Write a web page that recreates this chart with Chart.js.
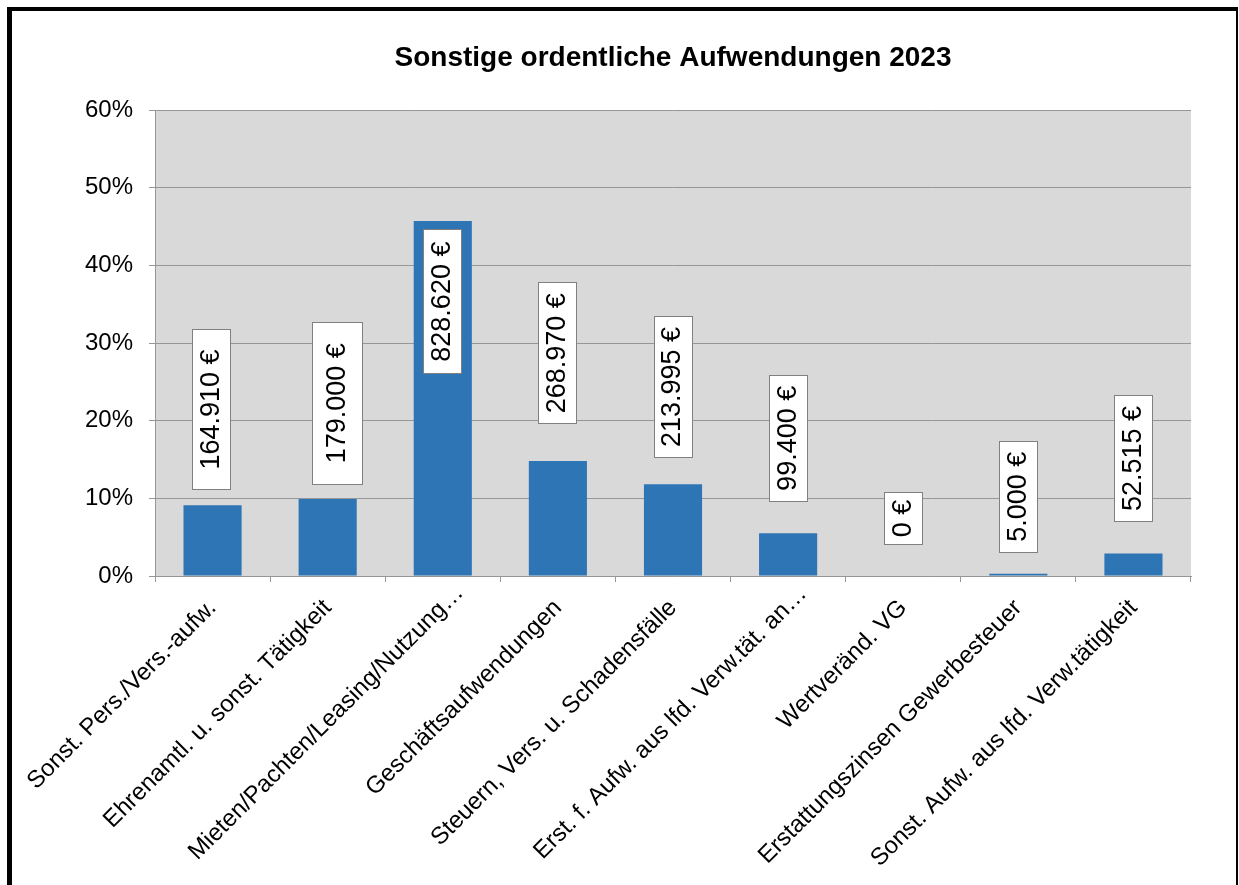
<!DOCTYPE html>
<html>
<head>
<meta charset="utf-8">
<script src="https://cdn.jsdelivr.net/npm/chart.js@4.4.1/dist/chart.umd.min.js"></script>
<style>
  html, body { margin: 0; padding: 0; background: #fff; }
  canvas { display: block; }
</style>
</head>
<body>
<canvas id="c" width="1239" height="885"></canvas>
<script>
// ---- data ----
const chartTitle = 'Sonstige ordentliche Aufwendungen 2023';
const categories = [
  'Sonst. Pers./Vers.-aufw.',
  'Ehrenamtl. u. sonst. Tätigkeit',
  'Mieten/Pachten/Leasing/Nutzung…',
  'Geschäftsaufwendungen',
  'Steuern, Vers. u. Schadensfälle',
  'Erst. f. Aufw. aus lfd. Verw.tät. an…',
  'Wertveränd. VG',
  'Erstattungszinsen Gewerbesteuer',
  'Sonst. Aufw. aus lfd. Verw.tätigkeit'
];
const sharePercent = [9.1, 9.9, 45.7, 14.8, 11.8, 5.5, 0, 0.3, 2.9];
const amountsEuro = [164910, 179000, 828620, 268970, 213995, 99400, 0, 5000, 52515];
const yTicks = [0, 10, 20, 30, 40, 50, 60];

// ---- helpers ----
function fmtEuro(n) {
  return String(n).replace(/\B(?=(\d{3})+(?!\d))/g, '.') + ' €';
}
const FONT = '"Liberation Sans", Arial, Helvetica, sans-serif';

const frameAndBg = {
  id: 'frameAndBg',
  beforeDraw(chart) {
    const { ctx, chartArea: a } = chart;
    ctx.save();
    ctx.fillStyle = '#ffffff';
    ctx.fillRect(0, 0, chart.width, chart.height);
    ctx.fillStyle = '#D9D9D9';
    ctx.fillRect(a.left, a.top, a.right - a.left, a.bottom - a.top);
    ctx.restore();
  },
  afterDraw(chart) {
    const ctx = chart.ctx;
    ctx.save();
    ctx.fillStyle = '#000';
    ctx.fillRect(7, 7, 5, chart.height - 7);
    ctx.fillRect(7, 7, 1231, 4);
    ctx.fillRect(1236, 7, 2, chart.height - 7);
    ctx.restore();
  }
};

// nudges the two truncated category labels along their slant, as in the original
const tickShift = {
  id: 'tickShift',
  beforeDraw(chart, args, opts) {
    const items = chart.scales.x.getLabelItems();
    items.forEach((it, i) => {
      const d = opts.shift[i];
      if (d && !it._shifted) {
        const t = it.options.translation;
        it.options.translation = [t[0] + d[0], t[1] + d[1]];
        it._shifted = true;
      }
    });
  }
};

const valueLabels = {
  id: 'valueLabels',
  afterDatasetsDraw(chart, args, opts) {
    const ctx = chart.ctx;
    const meta = chart.getDatasetMeta(0);
    const area = chart.chartArea;
    ctx.save();
    ctx.font = opts.font;
    meta.data.forEach((bar, i) => {
      const text = fmtEuro(amountsEuro[i]);
      const n = (opts.nudge && opts.nudge[i]) || {};
      const tw = ctx.measureText(text).width;
      const h = tw + 2 * opts.padLong + (n.grow || 0);
      const w = opts.boxWidth + (n.widen || 0);
      let cy = bar.y - opts.gap - h / 2;
      if (cy - h / 2 < area.top) cy = bar.y + opts.insetGap + h / 2;
      cy += (n.dy || 0);
      const cx = bar.x + (n.dx || 0);
      const x0 = Math.round(cx - w / 2), y0 = Math.round(cy - h / 2);
      ctx.fillStyle = '#ffffff';
      ctx.fillRect(x0, y0, Math.round(w), Math.round(h));
      ctx.strokeStyle = opts.border;
      ctx.lineWidth = 1;
      ctx.strokeRect(x0 + 0.5, y0 + 0.5, Math.round(w) - 1, Math.round(h) - 1);
      ctx.save();
      ctx.translate(cx, cy);
      ctx.rotate(-Math.PI / 2);
      ctx.fillStyle = '#000';
      ctx.textAlign = 'center';
      ctx.textBaseline = 'middle';
      ctx.fillText(text, 0, 0);
      ctx.restore();
    });
    ctx.restore();
  }
};

Chart.defaults.color = '#000';
Chart.defaults.font.family = FONT;

new Chart(document.getElementById('c'), {
  type: 'bar',
  data: {
    labels: categories,
    datasets: [{
      data: sharePercent,
      backgroundColor: '#2E75B6',
      borderWidth: 0,
      barPercentage: 0.505,
      categoryPercentage: 1.0
    }]
  },
  options: {
    responsive: false,
    animation: false,
    devicePixelRatio: 1,
    layout: { padding: { left: 0, right: 48, top: 0, bottom: 0 } },
    plugins: {
      legend: { display: false },
      tooltip: { enabled: false },
      title: {
        display: true,
        text: chartTitle,
        fullSize: false,
        color: '#000',
        font: { family: FONT, size: 28, weight: 'bold' },
        padding: { top: 41, bottom: 35.4 }
      },
      tickShift: {
        shift: { 2: [17, -15], 5: [15, -14] }
      },
      valueLabels: {
        font: '27px ' + FONT,
        padLong: 11,
        boxWidth: 39,
        gap: 20,
        insetGap: 8,
        border: '#808080',
        nudge: [
          { dx: -1, dy: 4.7, grow: 19 },
          { dx: 9.5, dy: 5.7, grow: 21, widen: 12 },
          { grow: 3 },
          { dy: -16.7 },
          { dy: -6.3 },
          { dy: -11.4 },
          { dy: -11, grow: -6.5 },
          { dy: -0.8 },
          { dy: -11.5 }
        ]
      }
    },
    scales: {
      x: {
        grid: { drawOnChartArea: false, drawTicks: true, tickLength: 6, color: '#969696', offset: true },
        border: { color: '#969696', width: 1 },
        ticks: {
          autoSkip: false,
          minRotation: 45,
          maxRotation: 45,
          padding: 12,
          color: '#000',
          font: { family: FONT, size: 24 }
        },
        afterFit(scale) { scale.height = 309; }
      },
      y: {
        min: 0,
        max: 60,
        afterBuildTicks(scale) { scale.ticks = yTicks.map(v => ({ value: v })); },
        grid: { color: '#969696', tickLength: 6, drawTicks: true },
        border: { color: '#969696', width: 1 },
        ticks: {
          padding: 16,
          color: '#000',
          font: { family: FONT, size: 24 },
          callback: v => v + '%'
        },
        afterFit(scale) { scale.width = 155; }
      }
    }
  },
  plugins: [frameAndBg, tickShift, valueLabels]
});
</script>
</body>
</html>
